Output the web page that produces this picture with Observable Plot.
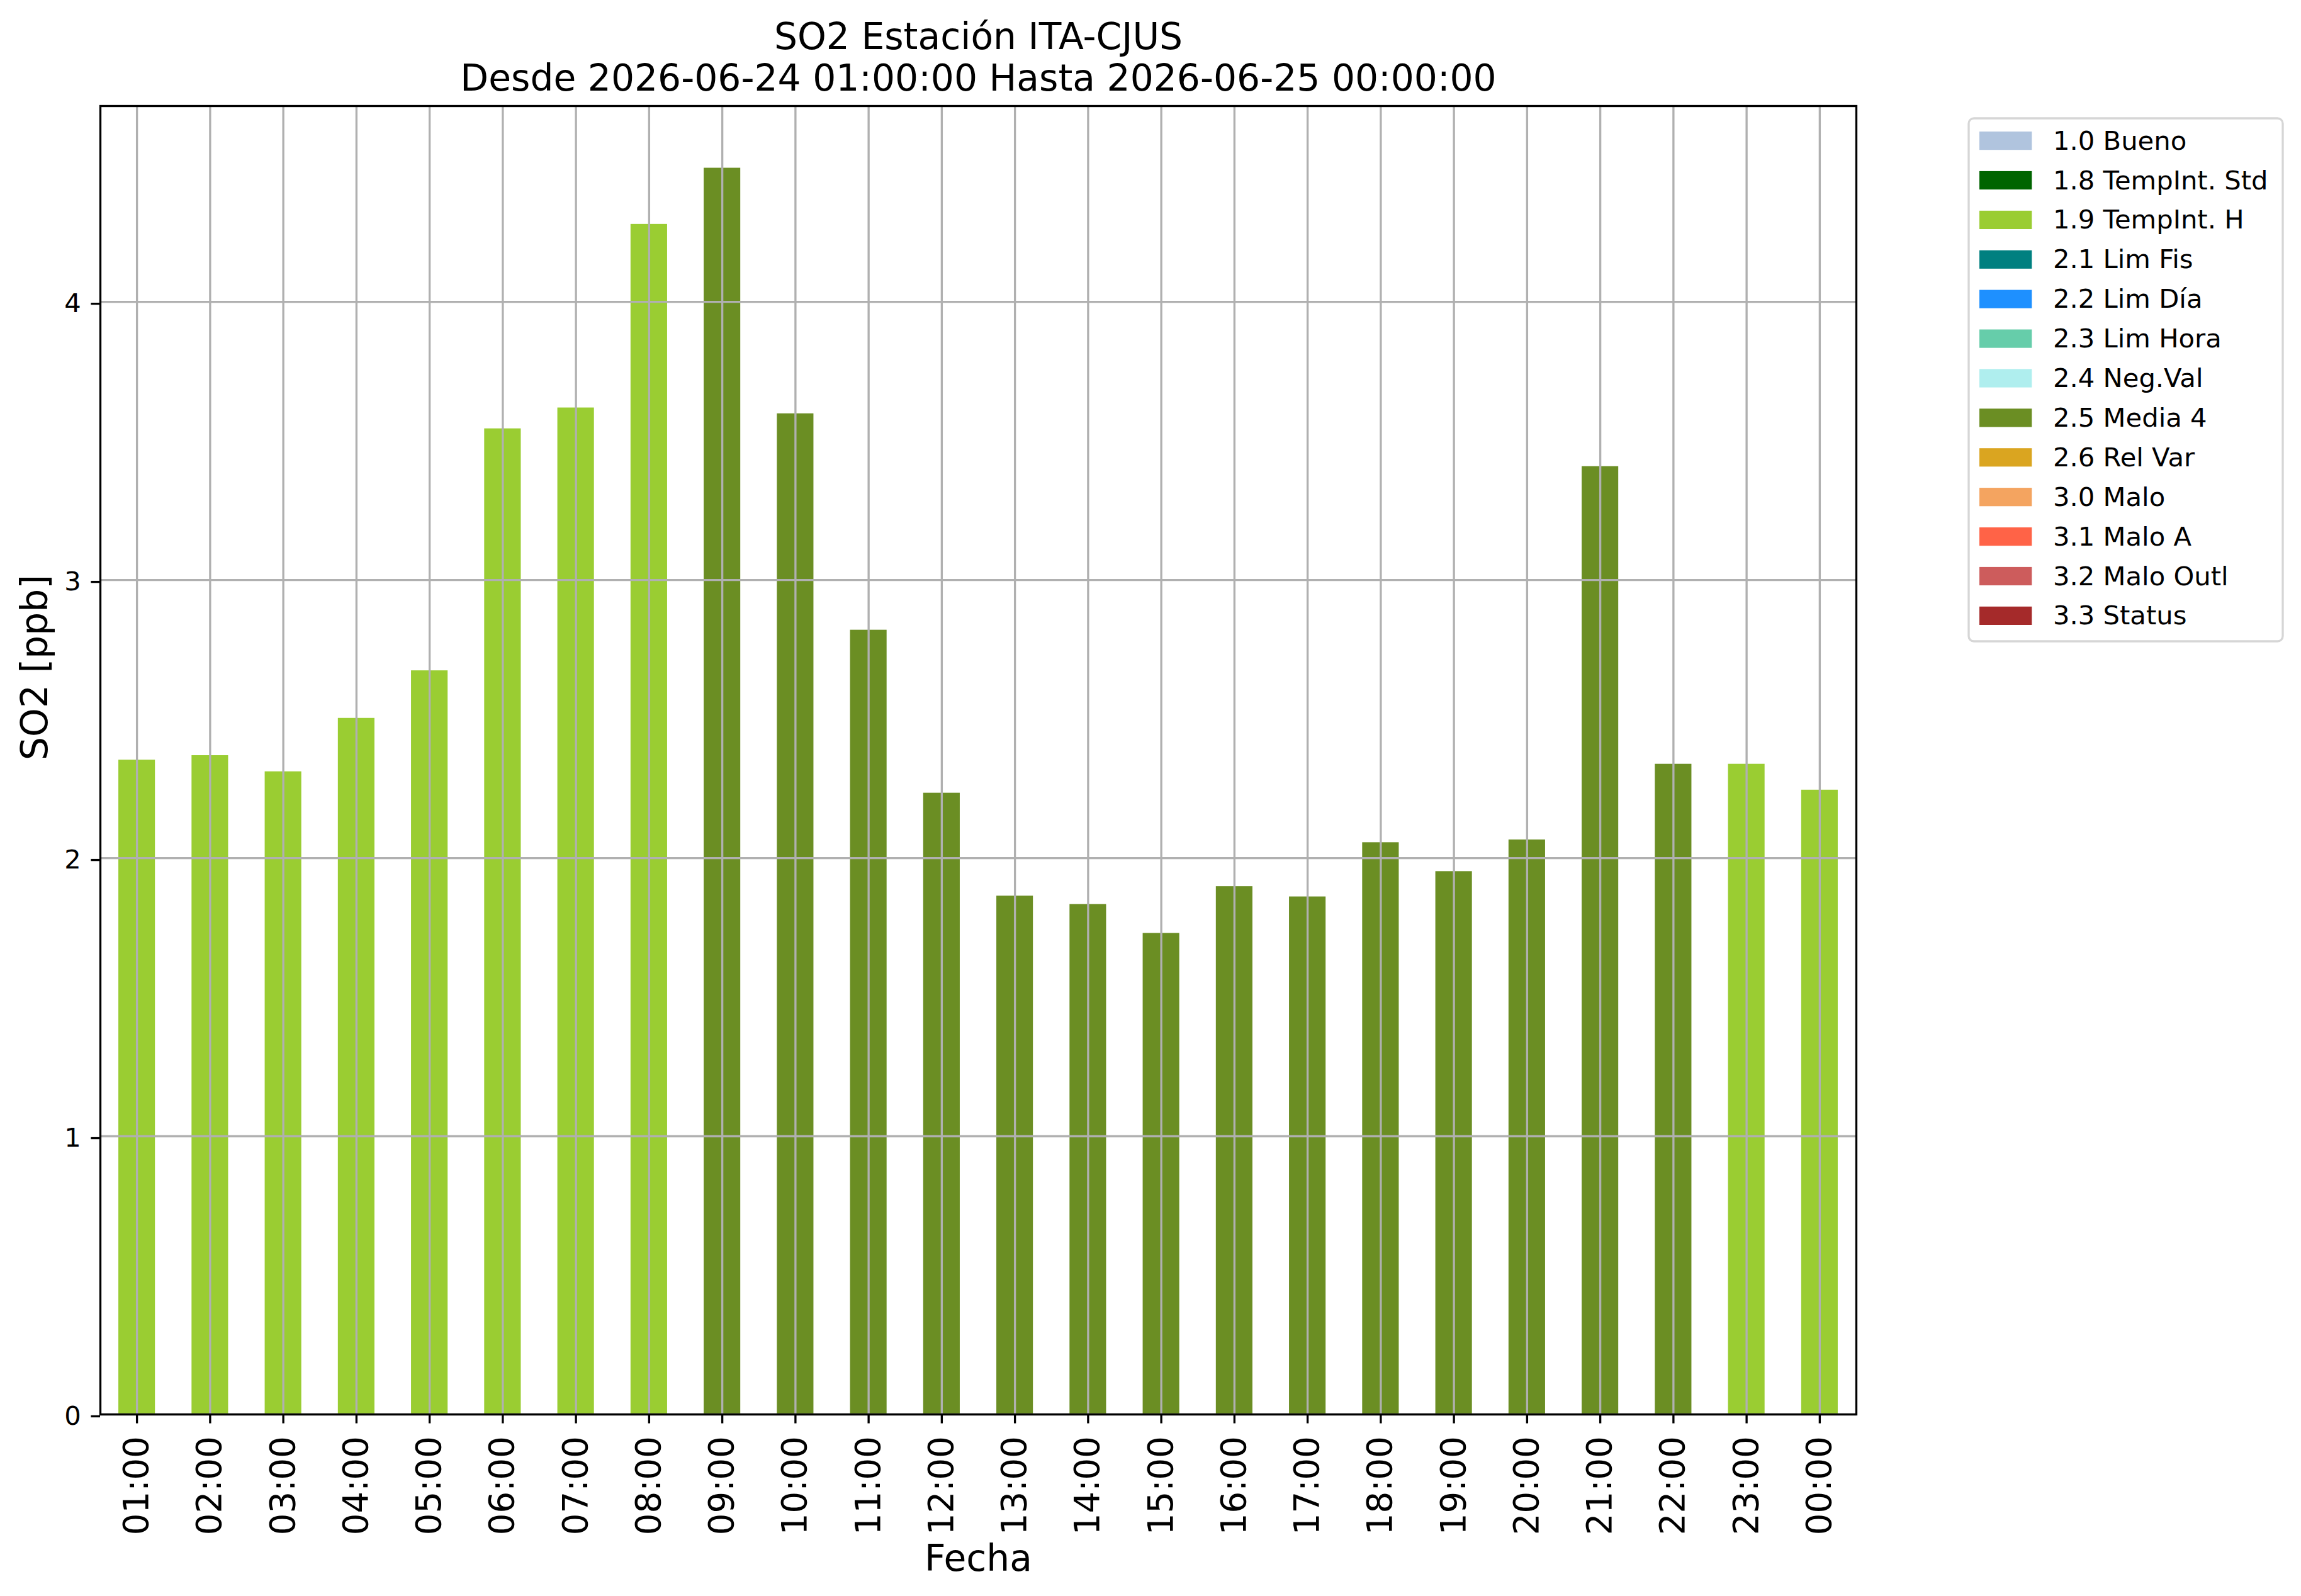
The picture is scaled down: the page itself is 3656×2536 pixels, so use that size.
<!DOCTYPE html>
<html>
<head>
<meta charset="utf-8">
<script src="https://cdn.jsdelivr.net/npm/d3@7"></script>
<script src="https://cdn.jsdelivr.net/npm/@observablehq/plot@0.6"></script>
<style>
  html, body { margin: 0; padding: 0; background: #ffffff; overflow: hidden; }
  #chart svg { display: block; }
</style>
</head>
<body>
<div id="chart"></div>
<script>
// ---- data ----
const hours = ["01:00","02:00","03:00","04:00","05:00","06:00","07:00","08:00","09:00","10:00","11:00","12:00",
               "13:00","14:00","15:00","16:00","17:00","18:00","19:00","20:00","21:00","22:00","23:00","00:00"];
const so2 = [2.353, 2.369, 2.311, 2.503, 2.674, 3.544, 3.619, 4.279, 4.481, 3.598, 2.820, 2.234,
             1.864, 1.834, 1.730, 1.898, 1.861, 2.056, 1.952, 2.066, 3.408, 2.338, 2.338, 2.245];
const hourFlags = ["1.9 TempInt. H","1.9 TempInt. H","1.9 TempInt. H","1.9 TempInt. H","1.9 TempInt. H","1.9 TempInt. H",
                   "1.9 TempInt. H","1.9 TempInt. H","2.5 Media 4","2.5 Media 4","2.5 Media 4","2.5 Media 4",
                   "2.5 Media 4","2.5 Media 4","2.5 Media 4","2.5 Media 4","2.5 Media 4","2.5 Media 4",
                   "2.5 Media 4","2.5 Media 4","2.5 Media 4","2.5 Media 4","1.9 TempInt. H","1.9 TempInt. H"];
const flagLabels = ["1.0 Bueno","1.8 TempInt. Std","1.9 TempInt. H","2.1 Lim Fis","2.2 Lim Día","2.3 Lim Hora",
                    "2.4 Neg.Val","2.5 Media 4","2.6 Rel Var","3.0 Malo","3.1 Malo A","3.2 Malo Outl","3.3 Status"];
const flagColors = ["#b0c4de","#006400","#9acd32","#008080","#1e90ff","#66cdaa",
                    "#afeeee","#6b8e23","#daa520","#f4a460","#ff6347","#cd5c5c","#a52a2a"];
const yTicks = [0, 1, 2, 3, 4];
const yMax = 4.704;
const titleLine1 = "SO2 Estación ITA-CJUS";
const titleLine2 = "Desde 2026-06-24 01:00:00 Hasta 2026-06-25 00:00:00";
const xLabel = "Fecha";
const yLabel = "SO2 [ppb]";

const data = hours.map((h, i) => ({hour: h, value: so2[i], flag: hourFlags[i]}));

const FONT = "DejaVu Sans";
const LW = 3.33;

const chart = Plot.plot({
  width: 3656,
  height: 2536,
  marginLeft: 159,
  marginRight: 707,
  marginTop: 168,
  marginBottom: 289,
  style: {fontFamily: FONT, background: "#ffffff", color: "#000000"},
  x: {domain: hours, paddingInner: 0.5, paddingOuter: 0.25, align: 0.5, round: false, label: null},
  y: {domain: [0, yMax], label: null},
  color: {domain: flagLabels, range: flagColors},
  marks: [
    Plot.barY(data, {x: "hour", y: "value", fill: "flag"}),
    Plot.gridX({stroke: "#b0b0b0", strokeOpacity: 1, strokeWidth: LW}),
    Plot.gridY(yTicks, {stroke: "#b0b0b0", strokeOpacity: 1, strokeWidth: LW}),
    Plot.frame({stroke: "#000000", strokeWidth: LW}),
    Plot.axisX({tickSize: 14.6, tickPadding: 20, tickRotate: -90, fontSize: 54.5, strokeWidth: LW, label: null}),
    Plot.axisY(yTicks, {tickSize: 14.6, tickPadding: 16, fontSize: 41.7, strokeWidth: LW, dy: 3, label: null, tickFormat: d => String(d)}),
    Plot.text([titleLine1], {text: d => d, frameAnchor: "top", lineAnchor: "bottom", dy: -90.3, fontSize: 58.3, fill: "#000000"}),
    Plot.text([titleLine2], {text: d => d, frameAnchor: "top", lineAnchor: "bottom", dy: -24.7, fontSize: 58.3, fill: "#000000"}),
    Plot.text([xLabel], {text: d => d, frameAnchor: "bottom", lineAnchor: "bottom", dy: 248, fontSize: 58.3, fill: "#000000"}),
    Plot.text([yLabel], {text: d => d, frameAnchor: "left", lineAnchor: "bottom", rotate: -90, dx: -85, fontSize: 58.3, fill: "#000000"})
  ]
});

// ---- legend (drawn into the same SVG, from the flag arrays) ----
const svg = d3.select(chart);
const lg = svg.append("g").attr("font-family", FONT).attr("text-anchor", "start");
lg.append("rect")
  .attr("x", 3128).attr("y", 188).attr("width", 499).attr("height", 831)
  .attr("rx", 8.3).attr("ry", 8.3)
  .attr("fill", "#ffffff").attr("fill-opacity", 0.8)
  .attr("stroke", "#d6d6d6").attr("stroke-width", LW);
const ent = lg.selectAll("g.entry").data(flagLabels).join("g").attr("class", "entry")
  .attr("transform", (d, i) => `translate(0,${i * 62.9})`);
ent.append("rect")
  .attr("x", 3145).attr("y", 209).attr("width", 83.3).attr("height", 29.2)
  .attr("fill", (d, i) => flagColors[i]);
ent.append("text")
  .attr("x", 3262).attr("y", 237.7)
  .attr("text-anchor", "start")
  .attr("font-size", 41.7).attr("fill", "#000000")
  .text(d => d);

document.getElementById("chart").appendChild(chart);
</script>
</body>
</html>
